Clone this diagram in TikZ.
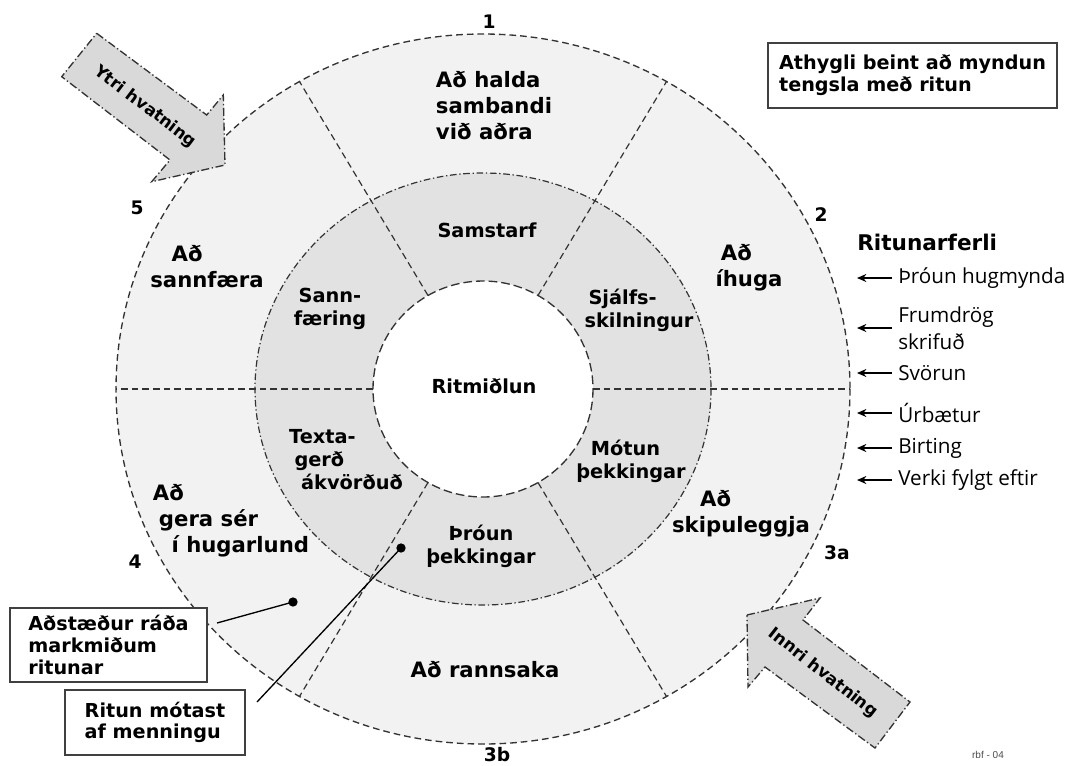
\documentclass[tikz,border=0pt]{standalone}
\usepackage{fontspec}
\setmainfont{DejaVu Sans}
\newfontfamily\listfont{Open Sans}
\newfontfamily\tinyfont{Liberation Sans}
\usetikzlibrary{arrows.meta,calc}
\definecolor{ringout}{HTML}{F2F2F2}
\definecolor{ringmid}{HTML}{E2E2E2}
\definecolor{arrfill}{HTML}{D9D9D9}
\definecolor{linec}{HTML}{333333}
\begin{document}
\begin{tikzpicture}[x=0.75pt,y=-0.75pt,
 outerlbl/.style={font=\bfseries\fontsize{15.9}{19.5}\selectfont, align=left, inner sep=0pt},
 midlbl/.style={font=\bfseries\fontsize{14.5}{17.25}\selectfont, align=left, inner sep=0pt},
 numlbl/.style={font=\bfseries\fontsize{14}{16}\selectfont, inner sep=0pt},
 boxlbl/.style={draw=black!75, line width=1.3pt, fill=white, font=\bfseries\fontsize{14.4}{16.2}\selectfont, align=left, inner sep=0pt},
 listlbl/.style={font=\listfont\fontsize{15.5}{20}\selectfont, align=left, anchor=west, inner sep=0pt},
 larr/.style={-{Stealth[length=7pt,width=6pt]}, line width=1.1pt},
 divline/.style={draw=linec, line width=0.9pt, dash pattern=on 5pt off 3pt},
 bigarrow/.style={fill=arrfill, draw=linec, line width=1pt, dash pattern=on 6pt off 2pt on 1pt off 2pt},
 arrlbl/.style={font=\bfseries\fontsize{12.5}{14}\selectfont, inner sep=0pt},
 dotc/.style={circle, fill=black, inner sep=0pt, minimum size=7pt}
]
\useasboundingbox (0,0) rectangle (1068,765);
\coordinate (C) at (483,389);
\fill[ringout] (C) ellipse [x radius=367, y radius=355];
\fill[ringmid] (C) ellipse [x radius=228, y radius=216];
\fill[white] (C) ellipse [x radius=110, y radius=108];
\foreach \a in {0,60,120,180,240,300}
  \draw[divline] ($(C)+(\a:110 and 108)$) -- ($(C)+(\a:367 and 355)$);
\draw[draw=linec, line width=1pt, dash pattern=on 5pt off 3pt] (C) ellipse [x radius=367, y radius=355];
\draw[draw=linec, line width=0.9pt, dash pattern=on 5pt off 2pt on 1pt off 2pt] (C) ellipse [x radius=228, y radius=216];
\draw[draw=linec, line width=1pt, dash pattern=on 6.5pt off 3pt] (C) ellipse [x radius=110, y radius=108];

% big arrows
\draw[bigarrow] (96.7,33.3) -- (206.7,115) -- (223.3,95) -- (225,165) -- (151.7,181.7) -- (170,160) -- (61.7,76.7) -- cycle;
\node[arrlbl, rotate=-37] (ytri) at (145,107) {Ytri hvatning};
\draw[bigarrow] (747,615) -- (820,598) -- (803,620) -- (910,702) -- (875,748) -- (765,667) -- (748,687) -- cycle;
\node[arrlbl, rotate=-38] (innri) at (823,673) {Innri hvatning};

% outer ring labels
\node[outerlbl] (halda) at (494,106) {Að halda\\sambandi\\við aðra};
\node[outerlbl] (ihuga) at (749,268) {\hspace*{4pt}Að\\íhuga};
\node[outerlbl] (sannf) at (207,267) {\hspace*{16pt}Að\\sannfæra};
\node[outerlbl] (gera) at (231,521) {Að\\\hspace*{4.5pt}gera sér\\\hspace*{14pt}í hugarlund};
\node[outerlbl] (skip) at (741,514) {\hspace*{21pt}Að\\skipuleggja};
\node[outerlbl] (rann) at (485,670) {Að rannsaka};

% middle ring labels
\node[midlbl] (samst) at (487,230) {Samstarf};
\node[midlbl, align=center] (sann) at (330,309) {Sann-\\færing};
\node[midlbl] (sjalf) at (639,310) {\hspace*{3pt}Sjálfs-\\skilningur};
\node[midlbl] (texta) at (346,460) {Texta-\\\hspace*{4pt}gerð\\\hspace*{9pt}ákvörðuð};
\node[midlbl] (motun) at (631,461) {\hspace*{11pt}Mótun\\þekkingar};
\node[midlbl, align=center] (throun) at (481,546) {Þróun\\þekkingar};
\node[midlbl] (ritm) at (484,386) {Ritmiðlun};

% numbers
\node[numlbl] (n1) at (489,22) {1};
\node[numlbl] (n2) at (821,215) {2};
\node[numlbl] (n5) at (137,208) {5};
\node[numlbl] (n4) at (135,562) {4};
\node[numlbl] (n3a) at (837,553) {3a};
\node[numlbl] (n3b) at (497,755) {3b};

% boxes
\node[boxlbl, minimum width=147.75pt, minimum height=55.5pt] (box1) at (108.5,645) {Aðstæður ráða\\markmiðum\\ritunar};
\node[boxlbl, minimum width=135pt, minimum height=48.75pt] (box2) at (155,722.5) {Ritun mótast\\af menningu};
\node[boxlbl, minimum width=216.75pt, minimum height=48.75pt] (box3) at (912.5,75.5) {Athygli beint að myndun\\tengsla með ritun};

% dots and connectors
\node[dotc] (d1) at (293,602) {};
\node[dotc] (d2) at (401,548) {};
\coordinate (s1) at (217,623);
\coordinate (s2) at (257,702);
\draw[line width=1pt] (s1) -- (d1.center);
\draw[line width=1pt] (s2) -- (d2.center);

% writing process list
\node[font=\bfseries\fontsize{16.2}{19}\selectfont, anchor=base west, inner sep=0pt] (rf) at (857,250) {Ritunarferli};
\node[listlbl] (l1) at (898,278) {Þróun hugmynda};
\node[listlbl] (l2) at (898,328) {Frumdrög\\skrifuð};
\node[listlbl] (l3) at (898,373) {Svörun};
\node[listlbl] (l4) at (898,413) {Úrbætur};
\node[listlbl] (l5) at (898,448) {Birting};
\node[listlbl] (l6) at (898,480) {Verki fylgt eftir};
\coordinate (a1) at (857,278);
\coordinate (a2) at (857,328);
\coordinate (a3) at (857,373);
\coordinate (a4) at (857,413);
\coordinate (a5) at (857,448);
\coordinate (a6) at (857,480);
\foreach \i in {1,...,6}
  \draw[larr, shorten <=4.5pt] (l\i.west) -- (a\i);

\node[font=\tinyfont\fontsize{7.5}{9}\selectfont, text=black!70, inner sep=0pt] (rbf) at (988,755) {rbf - 04};
\end{tikzpicture}
\end{document}
